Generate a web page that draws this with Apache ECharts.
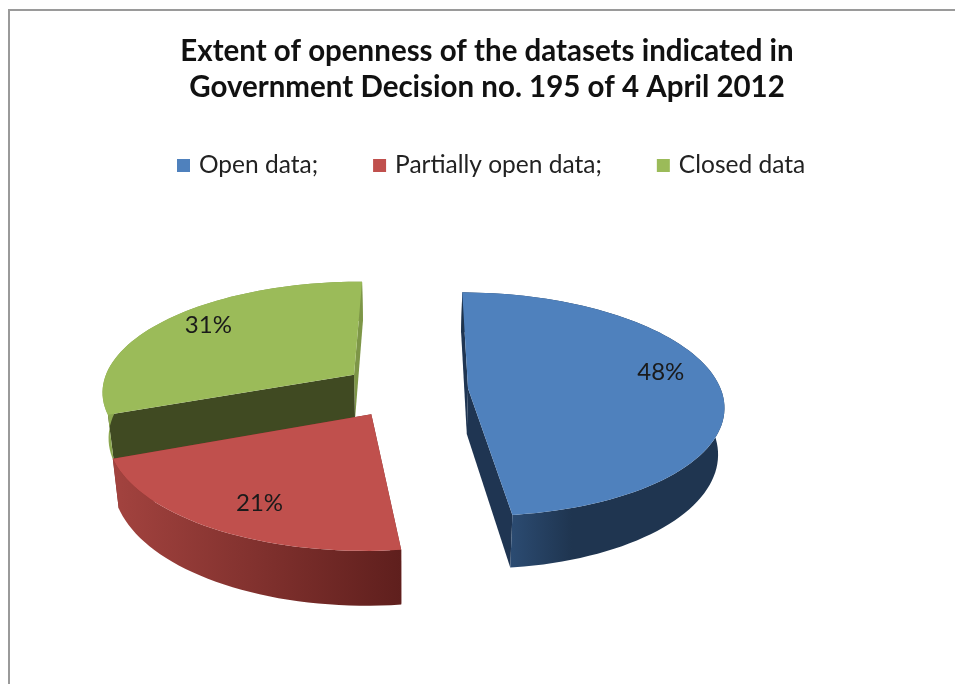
<!DOCTYPE html>
<html>
<head>
<meta charset="utf-8">
<title>Extent of openness</title>
<style>
  html, body { margin: 0; padding: 0; background: #fff; }
  #main { width: 955px; height: 684px; }
</style>
<script src="https://cdn.jsdelivr.net/npm/echarts@6/dist/echarts.min.js"></script>
</head>
<body>
<div id="main"></div>
<script>
var categories = ['Open data;', 'Partially open data;', 'Closed data'];
var shares = [48, 21, 31];
var titleText = 'Extent of openness of the datasets indicated in\nGovernment Decision no. 195 of 4 April 2012';

var topColors = ['#4F81BD', '#C0504D', '#9BBB59'];
var wallStops = [
  [[0, '#1D334D'], [0.18, '#2C4C73'], [0.42, '#1F3550'], [1, '#1F3550']],
  [[0, '#A3433F'], [1, '#5F1F1D']],
  [[0, '#8CA850'], [1, '#7D9647']]
];
var startSideColors = ['#1F3552', '#7A2B28', '#404A22'];
var endSideColors = ['#1F3552', '#7A2B28', '#7D9647'];
var labelShift = [-8, -2.5, 3];
var labelRadius = [0.8, 0.78, 0.81];

// tilted pie with a bit of perspective, Excel 3D style
var cx = 405, cy = 390, radiusX = 253, radiusY = 110;
var persp = 0.14, depth = 45.5, bottomShrink = 0.98, explode = 0.25, firstAngle = 0.5;

function project(u, v, low) {
  var s = 1 / (1 - persp * v);
  var x = radiusX * u * s;
  return [
    cx + (low ? x * bottomShrink : x),
    cy + radiusY * v * s + (low ? depth * s : 0)
  ];
}

function sliceAngles(index) {
  var total = shares.reduce(function (a, b) { return a + b; }, 0);
  var start = firstAngle;
  for (var i = 0; i < index; i++) start += shares[i] / total * 360;
  return [start, start + shares[index] / total * 360];
}

function planePoint(angle, r, apex) {
  var rad = angle * Math.PI / 180;
  return [apex[0] + r * Math.sin(rad), apex[1] - r * Math.cos(rad)];
}

function renderSlice(params, api) {
  var index = params.seriesIndex;
  var angles = sliceAngles(index);
  var mid = (angles[0] + angles[1]) / 2;
  var apex = planePoint(mid, explode, [0, 0]);
  var arc = [];
  for (var a = angles[0]; a < angles[1]; a += 2) arc.push(planePoint(a, 1, apex));
  arc.push(planePoint(angles[1], 1, apex));

  function up(p) { return project(p[0], p[1], false); }
  function down(p) { return project(p[0], p[1], true); }

  var wallPts = arc.map(up).concat(arc.slice().reverse().map(down));
  var xs = wallPts.map(function (p) { return p[0]; });
  var first = arc[0], last = arc[arc.length - 1];
  var labelAt = up(planePoint(mid + labelShift[index], labelRadius[index], apex));

  return {
    type: 'group',
    children: [
      {
        type: 'polygon',
        shape: { points: [up(apex), up(last), down(last), down(apex)] },
        style: { fill: endSideColors[index] }
      },
      {
        type: 'polygon',
        shape: { points: [up(apex), up(first), down(first), down(apex)] },
        style: { fill: startSideColors[index] }
      },
      {
        type: 'polygon',
        shape: { points: wallPts },
        style: {
          fill: new echarts.graphic.LinearGradient(
            Math.min.apply(null, xs), 0, Math.max.apply(null, xs), 0,
            wallStops[index].map(function (s) { return { offset: s[0], color: s[1] }; }),
            true
          )
        }
      },
      {
        type: 'polygon',
        shape: { points: [up(apex)].concat(arc.map(up)) },
        style: { fill: topColors[index] }
      },
      {
        type: 'text',
        style: {
          x: labelAt[0],
          y: labelAt[1],
          text: api.value(0) + '%',
          fill: '#1a1a1a',
          font: '24px Lato',
          align: 'center',
          verticalAlign: 'middle'
        }
      }
    ]
  };
}

// paint back to front: closed, partial, open
var seriesZ = [4, 3, 2];

var chart = echarts.init(document.getElementById('main'));
chart.setOption({
  animation: false,
  backgroundColor: '#ffffff',
  color: topColors,
  title: {
    text: titleText,
    left: 482,
    top: 28,
    textAlign: 'center',
    textStyle: {
      fontFamily: 'Lato',
      fontWeight: 'bold',
      fontSize: 29.5,
      lineHeight: 36,
      color: '#111111'
    }
  },
  legend: {
    data: categories,
    left: 172,
    top: 148,
    itemWidth: 13,
    itemHeight: 13,
    itemGap: 55,
    icon: 'rect',
    textStyle: { fontFamily: 'Lato', fontSize: 24.5, color: '#222222', padding: [0, 0, 0, 4] }
  },
  graphic: [{
    type: 'rect',
    silent: true,
    shape: { x: 9, y: 10, width: 960, height: 690 },
    style: { fill: 'none', stroke: '#9a9a9a', lineWidth: 2 }
  }],
  series: categories.map(function (name, i) {
    return {
      type: 'custom',
      name: name,
      coordinateSystem: 'none',
      z: seriesZ[i],
      renderItem: renderSlice,
      data: [[shares[i]]]
    };
  })
});
</script>
</body>
</html>
